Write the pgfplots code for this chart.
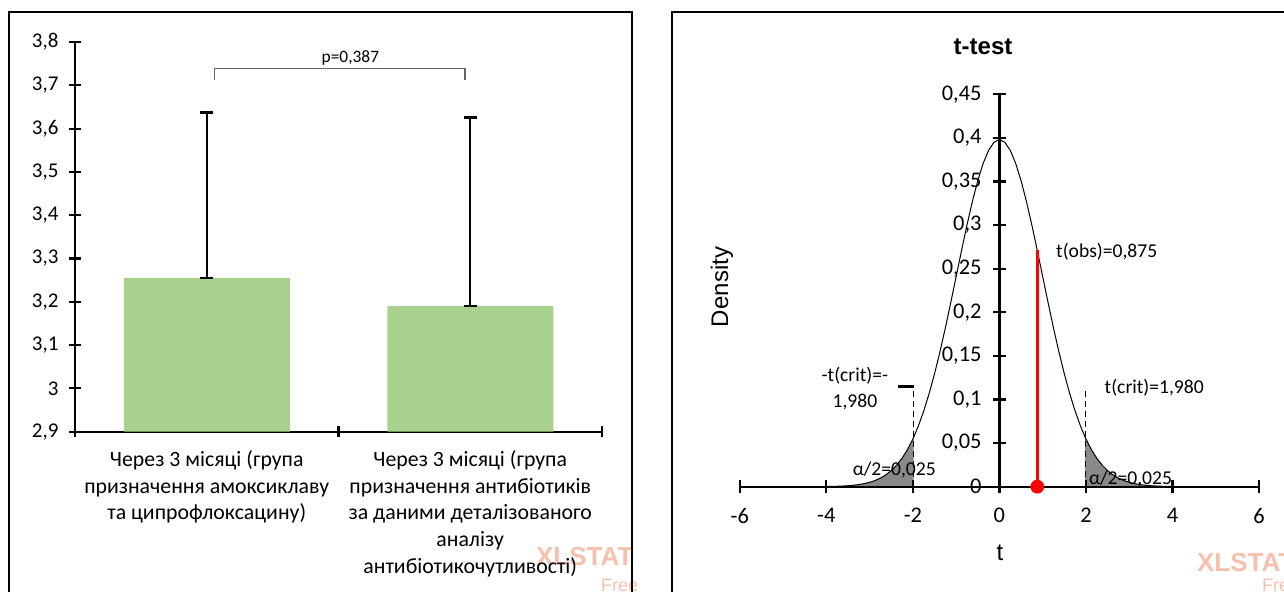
\documentclass[border=0pt]{standalone}
\usepackage{fontspec}
\setmainfont{Carlito}
\newfontfamily\arialfont{Liberation Sans}
\usepackage{pgfplots}
\usepackage{pgfplotstable}
\pgfplotsset{compat=1.18}

\definecolor{barGreen}{RGB}{169,209,142}
\definecolor{tailGray}{RGB}{137,137,137}
\definecolor{wmark}{RGB}{246,192,172}
\definecolor{obsRed}{RGB}{255,0,0}

% Student t density, df = 120
\pgfplotstableread{
t d
-4 0.00020
-3.875 0.00032
-3.75 0.00049
-3.625 0.00074
-3.5 0.00111
-3.375 0.00165
-3.25 0.00242
-3.125 0.00350
-3 0.00501
-2.875 0.00707
-2.75 0.00987
-2.625 0.01358
-2.5 0.01845
-2.375 0.02472
-2.25 0.03268
-2.125 0.04260
-2 0.05475
-1.98 0.05693
-1.875 0.06940
-1.75 0.08667
-1.625 0.10668
-1.5 0.12939
-1.375 0.15461
-1.25 0.18201
-1.125 0.21103
-1 0.24096
-0.875 0.27096
-0.75 0.29999
-0.625 0.32705
-0.5 0.35101
-0.375 0.37088
-0.25 0.38576
-0.125 0.39499
0 0.39811
0.125 0.39499
0.25 0.38576
0.375 0.37088
0.5 0.35101
0.625 0.32705
0.75 0.29999
0.875 0.27096
1 0.24096
1.125 0.21103
1.25 0.18201
1.375 0.15461
1.5 0.12939
1.625 0.10668
1.75 0.08667
1.875 0.06940
1.98 0.05693
2 0.05475
2.125 0.04260
2.25 0.03268
2.375 0.02472
2.5 0.01845
2.625 0.01358
2.75 0.00987
2.875 0.00707
3 0.00501
3.125 0.00350
3.25 0.00242
3.375 0.00165
3.5 0.00111
3.625 0.00074
3.75 0.00049
3.875 0.00032
4 0.00020
}\curve

\pgfplotstableread{
t d
-4 0.00020
-3.875 0.00032
-3.75 0.00049
-3.625 0.00074
-3.5 0.00111
-3.375 0.00165
-3.25 0.00242
-3.125 0.00350
-3 0.00501
-2.875 0.00707
-2.75 0.00987
-2.625 0.01358
-2.5 0.01845
-2.375 0.02472
-2.25 0.03268
-2.125 0.04260
-2 0.05475
-1.98 0.05693
}\lefttail

\pgfplotstableread{
t d
1.98 0.05693
2 0.05475
2.125 0.04260
2.25 0.03268
2.375 0.02472
2.5 0.01845
2.625 0.01358
2.75 0.00987
2.875 0.00707
3 0.00501
3.125 0.00350
3.25 0.00242
3.375 0.00165
3.5 0.00111
3.625 0.00074
3.75 0.00049
3.875 0.00032
4 0.00020
}\righttail

\pgfplotsset{
  tpanel/.style={
    at={(369.9pt,52.65pt)}, anchor=south west,
    scale only axis, width=259.6pt, height=196.2pt,
    xmin=-6, xmax=6, ymin=0, ymax=0.45,
  },
}

\begin{document}
\begin{tikzpicture}[x=0.5pt,y=0.5pt]
\useasboundingbox (0,0) rectangle (1284,592);

% watermarks
\node[anchor=west, text=wmark, font=\arialfont\bfseries\fontsize{13}{13}\selectfont] at (529,35) {XLSTAT};
\node[anchor=west, text=wmark, font=\arialfont\fontsize{9}{9}\selectfont] at (594,7) {Free};
\node[anchor=west, text=wmark, font=\arialfont\bfseries\fontsize{13}{13}\selectfont] at (1190,29) {XLSTAT};
\node[anchor=west, text=wmark, font=\arialfont\fontsize{9}{9}\selectfont] at (1255,7) {Free};

% panel frames
\draw[line width=1.3pt] (9,-10) -- (9,580) -- (632,580) -- (632,-10);
\draw[line width=1.3pt] (672,-10) -- (672,580) -- (1300,580);

% ---- left: bar chart
\begin{axis}[
  at={(37.5pt,80.15pt)}, anchor=south west,
  scale only axis, width=263.5pt, height=194.85pt,
  xmin=-0.5, xmax=1.5, ymin=2.9, ymax=3.8,
  axis x line=bottom, axis y line=left,
  axis line style={-, line width=1.1pt},
  tick align=center, major tick length=5.5pt,
  tick style={line width=1.1pt, black},
  xtick={-0.5,0.5,1.5}, xticklabels={,,},
  extra x ticks={0,1},
  extra x tick style={major tick length=0pt},
  extra x tick labels={{Через 3 місяці (група\\призначення амоксиклаву\\та ципрофлоксацину)},
    {Через 3 місяці (група\\призначення антибіотиків\\за даними деталізованого\\аналізу\\антибіотикочутливості)}},
  xticklabel style={align=center, font=\fontsize{10.9}{13.3}\selectfont, yshift=-6pt},
  ytick={2.9,3,3.1,3.2,3.3,3.4,3.5,3.6,3.7,3.8},
  /pgf/number format/use comma,
  /pgf/number format/fixed,
  /pgf/number format/precision=1,
  /pgf/number format/assume math mode=true,
  yticklabel style={font=\fontsize{10.5}{12}\selectfont, xshift=-2pt},
]
\addplot[ybar, bar width=83pt, fill=barGreen, draw=none,
  error bars/.cd, y dir=both, y explicit,
  error bar style={line width=1.2pt, black},
  error mark options={rotate=90, line width=1.2pt, black, mark size=3.25pt}]
  coordinates {(0,3.255) += (0,0.382) -= (0,0) (1,3.19) += (0,0.436) -= (0,0)};
\draw[line width=0.6pt, black!60] (axis cs:0.03,3.712) -- (axis cs:0.03,3.738)
  -- (axis cs:0.98,3.738) -- (axis cs:0.98,3.712);
\node[anchor=base, font=\fontsize{8.7}{10}\selectfont] at (axis cs:0.545,3.752) {p=0,387};
\end{axis}

% ---- right: t-test density
\begin{axis}[
  tpanel,
  axis on top,
  axis lines=middle,
  axis line style={-, line width=1.1pt},
  tick align=center, major tick length=6.5pt,
  tick style={line width=1.1pt, black},
  hide obscured x ticks=false, hide obscured y ticks=false,
  xtick={-6,-4,-2,0,2,4,6},
  ytick={0,0.05,0.1,0.15,0.2,0.25,0.3,0.35,0.4,0.45},
  /pgf/number format/use comma,
  /pgf/number format/fixed,
  /pgf/number format/precision=2,
  /pgf/number format/assume math mode=true,
  ticklabel style={font=\fontsize{11.2}{13}\selectfont},
  xticklabel style={yshift=-4pt},
  yticklabel style={xshift=-2.2pt},
  clip=false,
]
\addplot[draw=none, fill=tailGray] table[x=t, y=d] {\lefttail} \closedcycle;
\addplot[draw=none, fill=tailGray] table[x=t, y=d] {\righttail} \closedcycle;
\addplot[black, line width=0.5pt] table[x=t, y=d] {\curve};
\addplot[black, densely dashed, line width=0.5pt] coordinates {(-1.98,0) (-1.98,0.115)};
\addplot[black, densely dashed, line width=0.5pt] coordinates {(1.98,0) (1.98,0.113)};
\draw[line width=1.2pt] (axis cs:-2.34,0.115) -- (axis cs:-1.98,0.115);
\addplot[obsRed, line width=1.5pt] coordinates {(0.875,0) (0.875,0.27096)};
\node[anchor=west, font=\fontsize{9.8}{11}\selectfont] at (axis cs:1.15,0.2695) {t(obs)=0,875};
\node[anchor=west, font=\fontsize{9.8}{11}\selectfont] at (axis cs:2.27,0.113) {t(crit)=1,980};
\node[align=center, font=\fontsize{9.8}{13}\selectfont] at (axis cs:-3.34,0.113) {-t(crit)=-\\1,980};
\node[font=\fontsize{9.8}{11}\selectfont] at (axis cs:-2.43,0.019) {α/2=0,025};
\node[font=\fontsize{9.8}{11}\selectfont] at (axis cs:3.03,0.009) {α/2=0,025};
\end{axis}

% overlay axis: observed-t marker drawn above the axis line
\begin{axis}[tpanel, hide axis, clip=false]
\addplot[only marks, mark=*, mark size=3.25pt, obsRed] coordinates {(0.875,0)};
\end{axis}

\node[font=\arialfont\bfseries\fontsize{12}{14}\selectfont] at (983,545) {t-test};
\node[rotate=90, font=\arialfont\fontsize{12}{14}\selectfont] at (722,305) {Density};
\node[font=\arialfont\fontsize{12}{14}\selectfont] at (1000,39) {t};
\end{tikzpicture}
\end{document}
